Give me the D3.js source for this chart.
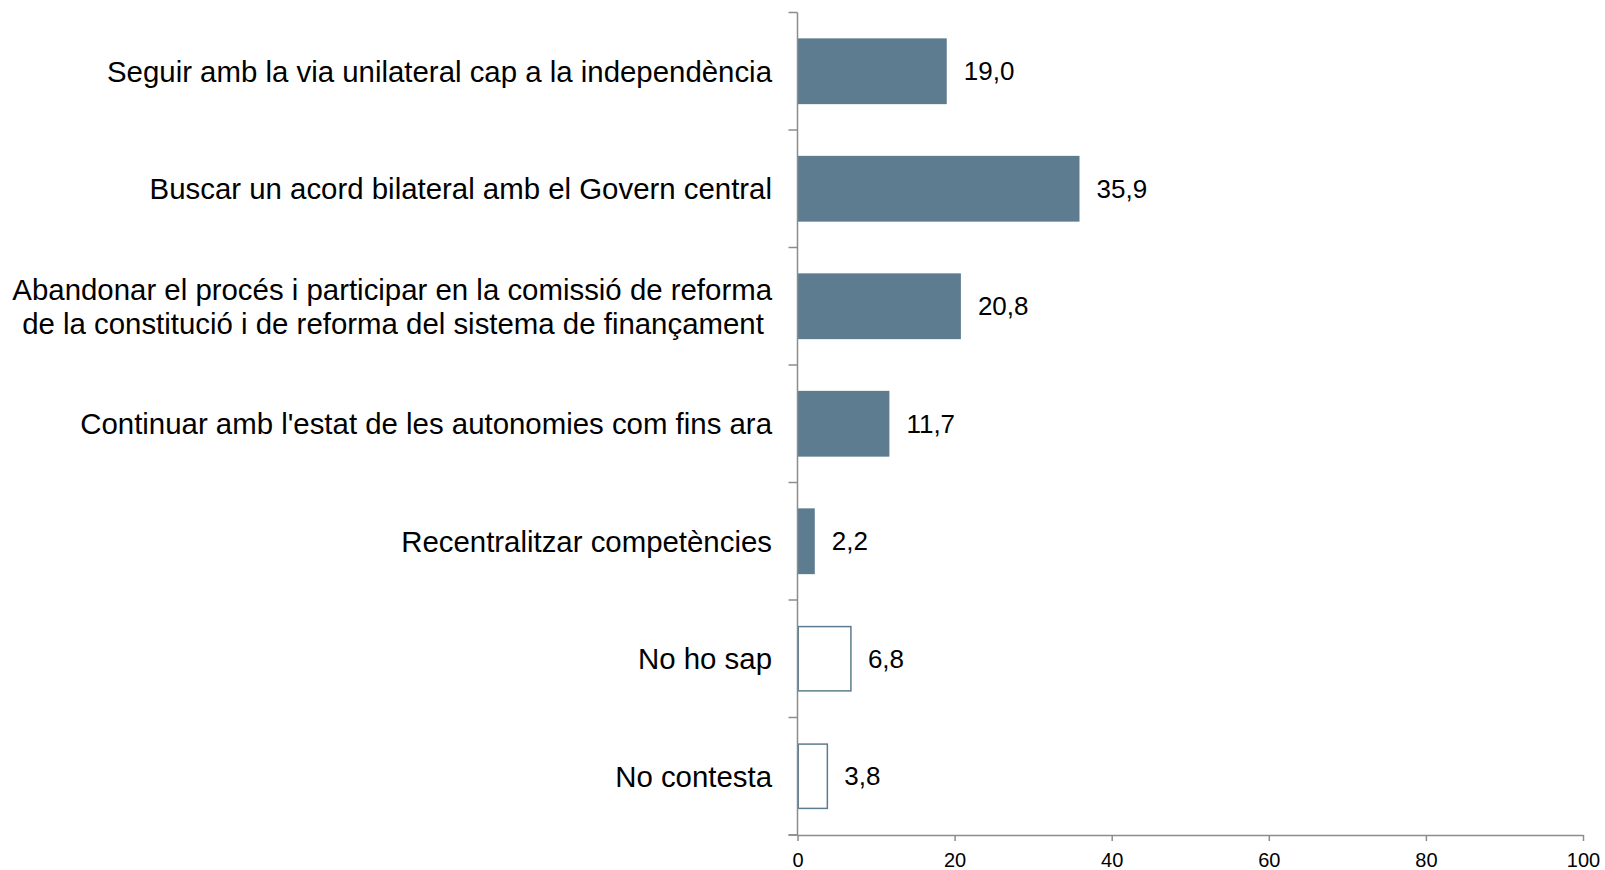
<!DOCTYPE html>
<html><head><meta charset="utf-8">
<script src="https://cdn.jsdelivr.net/npm/d3@7"></script>
<style>body{margin:0;background:#fff}svg{display:block}text{font-family:"Liberation Sans",Arial,sans-serif}</style>
</head><body>
<svg id="c" width="1605" height="870"></svg>
<script>
const categories = [
  ["Seguir amb la via unilateral cap a la independència"],
  ["Buscar un acord bilateral amb el Govern central"],
  ["Abandonar el procés i participar en la comissió de reforma", "de la constitució i de reforma del sistema de finançament\u00A0"],
  ["Continuar amb l'estat de les autonomies com fins ara"],
  ["Recentralitzar competències"],
  ["No ho sap"],
  ["No contesta"]
];
const values = [19.0, 35.9, 20.8, 11.7, 2.2, 6.8, 3.8];
const outlined = [false, false, false, false, false, true, true];
const xTicks = [0, 20, 40, 60, 80, 100];

const svg = d3.select("#c");
const barColor = "#5d7c8f", axisColor = "#8c8c8c";
const x = d3.scaleLinear().domain([0, 100]).range([797.5, 1583]);
const y = d3.scaleBand().domain(d3.range(categories.length)).range([12.5, 835]).paddingInner(0.44).paddingOuter(0.22);
const band = d3.scaleBand().domain(d3.range(categories.length)).range([12.5, 835]);

// bars
svg.selectAll("rect.bar").data(values).join("rect")
  .attr("class", "bar")
  .attr("x", (d, i) => outlined[i] ? x(0) + 0.75 : x(0))
  .attr("y", (d, i) => outlined[i] ? y(i) + 0.75 : y(i))
  .attr("width", (d, i) => outlined[i] ? x(d) - x(0) - 0.75 : x(d) - x(0))
  .attr("height", (d, i) => outlined[i] ? y.bandwidth() - 1.5 : y.bandwidth())
  .attr("fill", (d, i) => outlined[i] ? "#fff" : barColor)
  .attr("stroke", (d, i) => outlined[i] ? barColor : "none")
  .attr("stroke-width", 1.5);

// value labels
svg.selectAll("text.val").data(values).join("text")
  .attr("class", "val")
  .attr("x", d => x(d) + 17)
  .attr("y", (d, i) => band(i) + band.bandwidth() / 2)
  .attr("dy", "0.35em")
  .attr("font-size", 26)
  .attr("fill", "#000")
  .text(d => d3.format(".1f")(d).replace(".", ","));

// category labels
const lab = svg.selectAll("text.cat").data(categories).join("text")
  .attr("class", "cat")
  .attr("text-anchor", "end")
  .attr("font-size", 29.4)
  .attr("fill", "#000");
lab.each(function(lines, i) {
  const t = d3.select(this);
  const cy = band(i) + band.bandwidth() / 2;
  const lh = 34;
  lines.forEach((ln, k) => {
    t.append("tspan").attr("x", 772)
      .attr("y", cy + (k - (lines.length - 1) / 2) * lh)
      .attr("dy", "0.35em").text(ln);
  });
});

// y axis
svg.append("line").attr("x1", x(0)).attr("x2", x(0)).attr("y1", 12.5).attr("y2", 835)
  .attr("stroke", axisColor).attr("stroke-width", 1.5);
const bounds = d3.range(categories.length + 1).map(i => i < categories.length ? band(i) : 835);
svg.selectAll("line.yt").data(bounds).join("line").attr("class", "yt")
  .attr("x1", x(0) - 9).attr("x2", x(0)).attr("y1", d => d).attr("y2", d => d)
  .attr("stroke", axisColor).attr("stroke-width", 1.5);

// x axis
const xa = svg.append("g").attr("transform", "translate(0,835)")
  .call(d3.axisBottom(x).tickValues(xTicks).tickSize(6).tickSizeOuter(0).tickPadding(12).tickFormat(d3.format("d")));
xa.select(".domain").attr("stroke", axisColor).attr("stroke-width", 1.5);
xa.selectAll(".tick line").attr("stroke", axisColor).attr("stroke-width", 1.5);
xa.selectAll(".tick text").attr("font-size", 20).attr("fill", "#000").attr("font-family", '"Liberation Sans",Arial,sans-serif');
svg.append("line").attr("x1", x(0) - 9).attr("x2", x(0)).attr("y1", 835).attr("y2", 835)
  .attr("stroke", axisColor).attr("stroke-width", 1.5);
</script>
</body></html>
